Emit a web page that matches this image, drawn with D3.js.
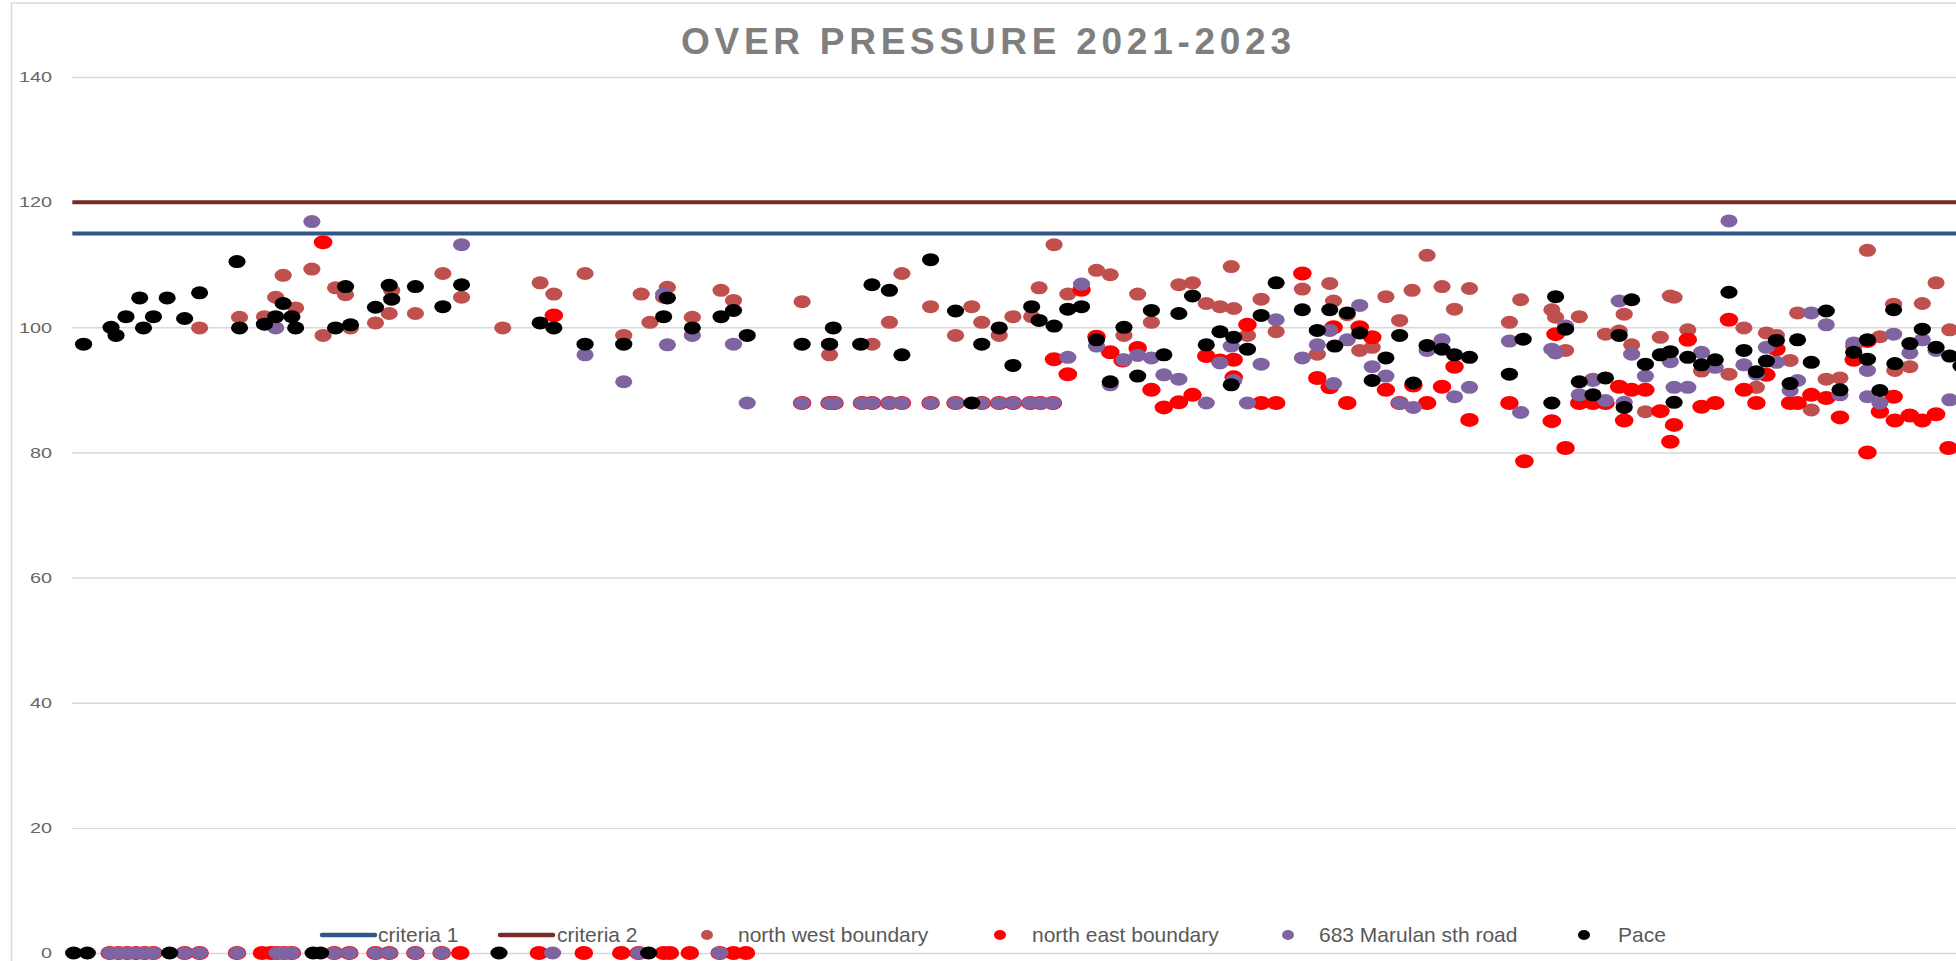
<!DOCTYPE html>
<html><head><meta charset="utf-8">
<script src="https://cdn.jsdelivr.net/npm/d3@7"></script>
<style>body{margin:0;background:#fff;overflow:hidden}</style>
</head><body><svg id="c" width="1956" height="961"></svg>
<script>
const title = "OVER PRESSURE 2021-2023";
const yTicks = [0, 20, 40, 60, 80, 100, 120, 140];
const criteria1 = 115;
const criteria2 = 120;
const readingSpan = [58, 1600];

// [reading day, over pressure]
const northWest = [[160,99.9],[192,101.6],[212,101.7],[221,104.8],[227,108.3],[237,103.1],[250,109.3],[259,98.7],[269,106.3],[277,105.2],[281,99.9],[301,100.7],[312,102.2],[314,105.9],[333,102.2],[355,108.6],[370,104.8],[403,99.9],[433,107.1],[444,105.3],[469,108.6],[500,98.7],[514,105.3],[521,100.8],[532,104.8],[535,106.4],[555,101.6],[578,105.9],[588,104.3],[643,104.1],[665,97.3],[665,95.6],[699,97.3],[713,100.8],[723,108.6],[746,103.3],[766,98.7],[779,103.3],[787,100.8],[801,98.7],[812,101.7],[827,101.7],[833,106.3],[845,113.2],[856,105.3],[879,109.1],[890,108.4],[901,98.7],[912,105.3],[923,100.8],[945,106.8],[956,107.1],[967,103.8],[978,103.3],[987,109.7],[989,103],[1000,98.7],[1011,104.5],[1023,99.3],[1044,106.1],[1056,95.7],[1066,107],[1069,104.2],[1080,102],[1090,96.3],[1100,96.8],[1111,104.9],[1122,101.1],[1132,105.9],[1144,111.5],[1156,106.5],[1166,102.9],[1178,106.2],[1210,100.8],[1219,104.4],[1244,102.8],[1247,101.6],[1255,96.3],[1266,101.7],[1277,91.7],[1287,98.9],[1298,99.4],[1302,102.1],[1308,97.2],[1319,86.5],[1331,98.4],[1339,105],[1342,104.8],[1353,99.6],[1364,93],[1386,92.5],[1398,99.9],[1408,90.4],[1416,99.1],[1424,98.7],[1435,94.7],[1441,102.3],[1452,86.8],[1464,91.7],[1475,91.9],[1486,96.9],[1497,112.3],[1507,98.5],[1518,103.7],[1519,93.1],[1531,93.7],[1541,103.8],[1552,107.1],[1563,99.6]];

const northEast = [[88,0],[95,0],[102,0],[109,0],[116,0],[123,0],[148,0],[160,0],[190,0],[210,0],[217,0],[222,0],[228,0],[234,0],[268,0],[280,0],[301,0],[312,0],[333,0],[354,0],[369,0],[432,0],[468,0],[498,0],[512,0],[532,0],[537,0],[553,0],[577,0],[588,0],[598,0],
[259,113.6],[444,101.9],
[643,87.9],[665,87.9],[669,87.9],[691,87.9],[699,87.9],[713,87.9],[723,87.9],[746,87.9],[766,87.9],[787,87.9],[801,87.9],[812,87.9],[826,87.9],[834,87.9],[844,87.9],
[845,94.9],[856,92.5],[867,106],[879,98.5],[890,96],[900,94.7],[912,96.7],[923,90],[933,87.2],[945,88],[956,89.2],[967,95.4],[978,94.7],[989,94.8],[989,92],[1000,100.4],[1011,87.9],[1023,87.9],[1044,108.6],[1056,91.9],[1066,90.4],[1069,100],[1080,87.9],[1090,100],[1100,98.4],[1111,90],[1122,87.9],[1133,90.7],[1144,87.9],[1156,90.5],[1166,93.7],[1178,85.2],[1210,87.9],[1222,78.6],[1244,85],[1247,98.9],[1255,80.7],[1266,87.9],[1277,87.9],[1287,87.9],[1298,90.5],[1302,85.1],[1308,90],[1319,90],[1331,86.6],[1339,81.7],[1342,84.4],[1353,98],[1364,87.3],[1375,87.9],[1386,101.2],[1398,90],[1408,87.9],[1416,92.4],[1424,96.5],[1435,87.9],[1441,87.9],[1452,89.2],[1464,88.7],[1475,85.6],[1486,94.8],[1497,97.8],[1497,80],[1507,86.5],[1518,88.9],[1519,85.1],[1531,85.9],[1541,85.1],[1552,86.1],[1562,80.7]];

const marulan683 = [[88,0],[95,0],[102,0],[109,0],[116,0],[123,0],[148,0],[160,0],[190,0],[222,0],[228,0],[234,0],[268,0],[280,0],[301,0],[312,0],[333,0],[354,0],[443,0],[512,0],[577,0],
[250,116.9],[221,99.9],[370,113.2],[469,95.6],[500,91.3],[532,105.3],[535,97.2],[555,98.7],[588,97.3],[599,87.9],
[643,87.9],[665,87.9],[669,87.9],[691,87.9],[699,87.9],[713,87.9],[723,87.9],[746,87.9],[766,87.9],[787,87.9],[801,87.9],[812,87.9],[826,87.9],[834,87.9],[844,87.9],
[856,95.2],[867,106.9],[879,97],[890,90.8],[901,94.8],[912,95.5],[923,95.1],[933,92.4],[945,91.7],[967,87.9],[978,94.3],[987,97],[989,91.5],[1000,87.9],[1011,94.1],[1023,101.2],[1044,95.1],[1056,97.2],[1066,99.5],[1069,91],[1080,98],[1090,103.5],[1100,93.7],[1111,92.2],[1122,87.9],[1133,87.2],[1144,96.3],[1156,98],[1166,88.9],[1178,90.4],[1210,97.8],[1219,86.4],[1244,96.5],[1247,95.9],[1255,100.2],[1266,89.2],[1277,91.5],[1287,88.3],[1298,104.2],[1302,88],[1308,95.7],[1319,92.2],[1331,95.6],[1339,94.5],[1342,90.4],[1353,90.4],[1364,96],[1375,93.6],[1386,117],[1398,94],[1408,92.5],[1416,96.8],[1424,94.4],[1435,89.9],[1441,91.5],[1452,102.3],[1464,100.4],[1475,89.2],[1486,97.5],[1497,93.1],[1497,88.9],[1507,87.9],[1518,98.9],[1531,95.9],[1541,98],[1552,96.3],[1563,88.4]];

const pace = [[59,0],[70,0],[136,0],[251,0],[257,0],[400,0],[520,0],
[67,97.3],[89,100],[93,98.7],[101,101.7],[112,104.7],[115,99.9],[123,101.7],[134,104.7],[148,101.4],[160,105.5],[190,110.5],[192,99.9],[212,100.5],[221,101.7],[227,103.8],[234,101.7],[237,99.9],[269,99.9],[277,106.5],[281,100.4],[301,103.2],[312,106.7],[314,104.5],[333,106.5],[355,103.3],[370,106.8],[433,100.7],[444,99.9],[469,97.3],[500,97.3],[532,101.7],[535,104.7],[555,99.9],[578,101.7],[588,102.7],[599,98.7],[643,97.3],[665,97.3],[668,99.9],[690,97.3],[699,106.8],[713,105.9],[723,95.6],[746,110.8],[766,102.6],[779,87.9],[787,97.3],[801,99.9],[812,93.9],[827,103.3],[833,101.1],[845,100.2],[856,102.9],[867,103.3],[879,98],[890,91.3],[901,100],[912,92.2],[923,102.7],[933,95.6],[945,102.2],[956,105],[967,97.2],[978,99.3],[987,90.8],[989,98.4],[1000,96.5],[1011,101.9],[1023,107.1],[1044,102.8],[1056,99.5],[1066,102.8],[1070,97],[1080,102.3],[1090,99.1],[1100,91.5],[1111,95.1],[1122,98.7],[1133,91.1],[1144,97.1],[1156,96.5],[1166,95.6],[1178,95.2],[1210,92.5],[1221,98.1],[1247,104.9],[1244,87.9],[1255,99.7],[1266,91.3],[1277,89.2],[1287,91.9],[1298,98.7],[1302,87.2],[1308,104.4],[1319,94.1],[1331,95.6],[1339,96.1],[1342,88],[1353,95.2],[1364,94],[1375,94.8],[1386,105.6],[1398,96.3],[1408,92.9],[1416,94.6],[1424,97.9],[1435,91],[1441,98],[1452,94.4],[1464,102.6],[1475,90],[1486,96],[1497,98],[1497,94.9],[1507,89.9],[1518,102.8],[1519,94.2],[1531,97.4],[1541,99.7],[1552,96.8],[1563,95.4],[1572,93.8]];

const seriesNames = ["criteria 1", "criteria 2", "north west boundary", "north east boundary", "683 Marulan sth road", "Pace"];
const seriesColors = ["#30568a", "#772c2a", "#c0504d", "#ff0000", "#8064a2", "#000000"];

const svg = d3.select("#c");
const plotLeft = 72, plotRight = 1956;
const x = d3.scaleLinear().domain([0, 1568]).range([0, 1956]);
const y = d3.scaleLinear().domain([0, 140]).range([953, 77]);

// outer border
svg.append("rect").attr("x", 11.5).attr("y", 3).attr("width", 2000).attr("height", 1000)
  .attr("fill", "none").attr("stroke", "#d9d9d9").attr("stroke-width", 1.5);

// title
svg.append("text").attr("x", 986).attr("y", 54).attr("text-anchor", "middle")
  .attr("font-family", "'Liberation Sans', Arial, sans-serif").attr("font-weight", "bold")
  .attr("font-size", 37).attr("fill", "#7f7f7f")
  .attr("textLength", 610).attr("lengthAdjust", "spacing")
  .text(title);

// y axis + gridlines
const yAxis = d3.axisLeft(y).tickValues(yTicks).tickSize(-(plotRight - plotLeft)).tickPadding(20);
const ga = svg.append("g").attr("transform", `translate(${plotLeft},0)`).call(yAxis);
ga.select(".domain").remove();
ga.selectAll(".tick line").attr("stroke", "#d9d9d9").attr("stroke-width", 1.4);
ga.selectAll(".tick text").attr("font-family", "'Liberation Sans', Arial, sans-serif")
  .attr("font-size", 15).attr("fill", "#666")
  .attr("textLength", d => String(d).length * 11).attr("lengthAdjust", "spacingAndGlyphs");

// criteria lines
const lineGen = d3.line().x(d => x(d[0])).y(d => y(d[1]));
[[criteria1, 0], [criteria2, 1]].forEach(([v, i]) => {
  svg.append("path").datum(readingSpan.map(t => [t, v]))
    .attr("d", lineGen).attr("stroke", seriesColors[i]).attr("stroke-width", 4).attr("fill", "none");
});

// scatter series
const scatter = [
  {data: northWest, i: 2, rx: 8.6, ry: 6.5},
  {data: northEast, i: 3, rx: 9.3, ry: 7},
  {data: marulan683, i: 4, rx: 8.6, ry: 6.5},
  {data: pace, i: 5, rx: 8.6, ry: 6.5}
];
scatter.forEach(s => {
  svg.append("g").selectAll("ellipse").data(s.data).join("ellipse")
    .attr("cx", d => x(d[0])).attr("cy", d => y(d[1]))
    .attr("rx", s.rx).attr("ry", s.ry).attr("fill", seriesColors[s.i]);
});

// legend
const legY = 935;
const leg = svg.append("g").attr("font-family", "'Liberation Sans', Arial, sans-serif").attr("font-size", 21).attr("fill", "#595959");
const legendItems = [
  {i: 0, type: "line", x0: 322, x1: 375, tx: 378},
  {i: 1, type: "line", x0: 500, x1: 553, tx: 557},
  {i: 2, type: "dot", cx: 707, tx: 738},
  {i: 3, type: "dot", cx: 1000, tx: 1032},
  {i: 4, type: "dot", cx: 1288, tx: 1319},
  {i: 5, type: "dot", cx: 1584, tx: 1618}
];
legendItems.forEach(it => {
  if (it.type === "line") {
    leg.append("line").attr("x1", it.x0).attr("x2", it.x1).attr("y1", legY).attr("y2", legY)
      .attr("stroke", seriesColors[it.i]).attr("stroke-width", 4.5).attr("stroke-linecap", "round");
  } else {
    leg.append("ellipse").attr("cx", it.cx).attr("cy", legY).attr("rx", 6).attr("ry", 5).attr("fill", seriesColors[it.i]);
  }
  leg.append("text").attr("x", it.tx).attr("y", legY + 7).text(seriesNames[it.i]);
});
</script></body></html>
